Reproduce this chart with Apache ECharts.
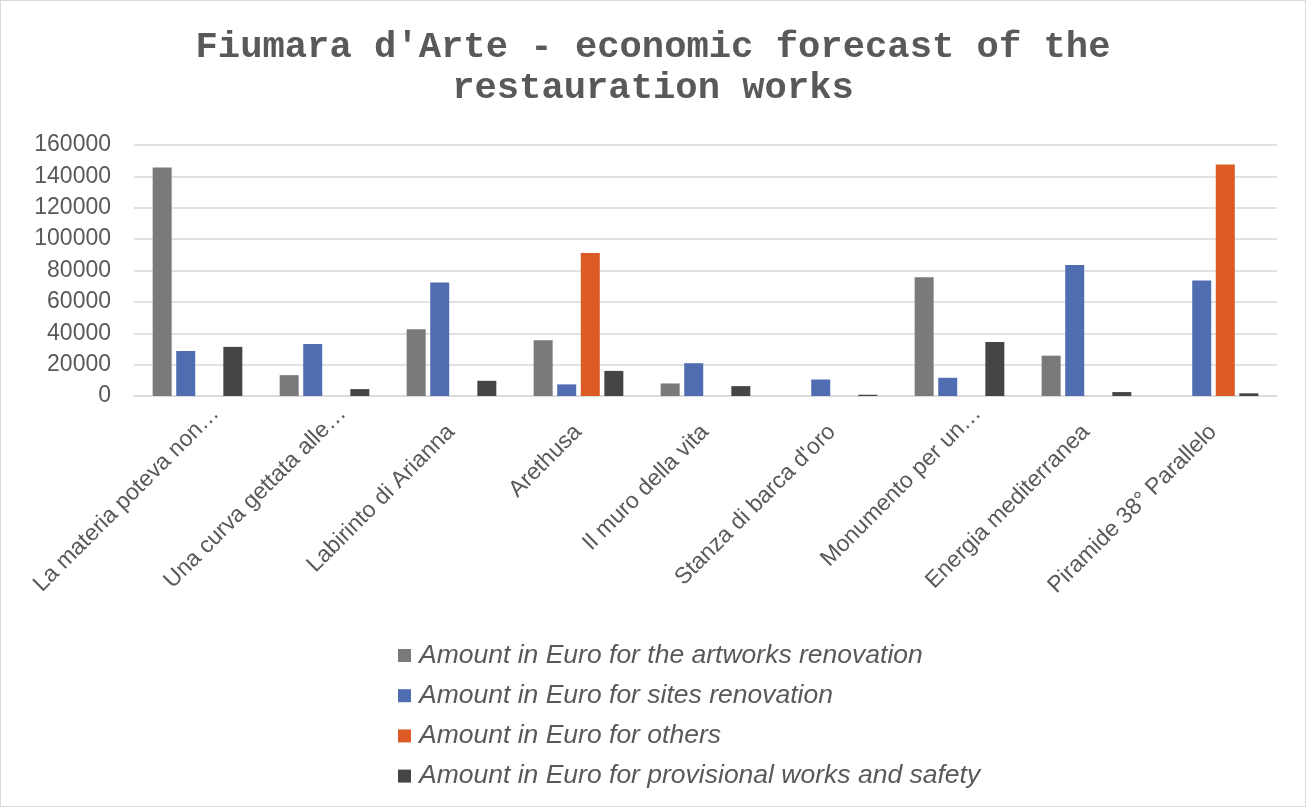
<!DOCTYPE html>
<html><head><meta charset="utf-8">
<script src="https://cdn.jsdelivr.net/npm/echarts@6/dist/echarts.min.js"></script>
<style>html,body{margin:0;padding:0;background:#fff}#c{position:absolute;left:0;top:0;width:1304px;height:805px;border:1px solid #d9d9d9}</style>
</head><body><div id="c"></div>
<script>
const categories = ["La materia poteva non…","Una curva gettata alle…","Labirinto di Arianna","Arethusa","Il muro della vita","Stanza di barca d'oro","Monumento per un…","Energia mediterranea","Piramide 38° Parallelo"];
const seriesNames = ["Amount in Euro for the artworks renovation","Amount in Euro for sites renovation","Amount in Euro for others","Amount in Euro for provisional works and safety"];
const artworks = [145600, 13300, 42500, 35500, 8000, 0, 75700, 25700, 0];
const sites = [28700, 33200, 72300, 7400, 20900, 10500, 11600, 83500, 73600];
const others = [0, 0, 0, 91100, 0, 0, 0, 0, 147500];
const safety = [31300, 4400, 9700, 16000, 6300, 800, 34400, 2500, 1700];
const colors = ["#7a7a7a", "#4f6db0", "#dc5a23", "#454545"];
const values = [artworks, sites, others, safety];

const labelFont = {fontFamily: 'Liberation Sans', fontSize: 23, color: '#595959', lineHeight: 23};
const chart = echarts.init(document.getElementById('c'));
chart.setOption({
  animation: false,
  title: {
    text: "Fiumara d'Arte - economic forecast of the\nrestauration works",
    left: 'center', top: 21,
    textStyle: {fontFamily: 'Liberation Mono', fontWeight: 'bold', fontSize: 37.2, color: '#595959', lineHeight: 41}
  },
  grid: {left: 133, right: 28, top: 144, bottom: 410, containLabel: false},
  legend: {
    orient: 'vertical', left: 392, top: 636, itemGap: 13.2, itemWidth: 13, itemHeight: 13,
    icon: 'rect',
    textStyle: {fontFamily: 'Liberation Sans', fontStyle: 'italic', fontSize: 26.5, lineHeight: 26.5, color: '#595959', padding: [0, 0, 0, 3]},
    data: seriesNames
  },
  xAxis: {
    type: 'category', data: categories,
    axisLine: {lineStyle: {color: '#d9d9d9', width: 1.5}},
    axisTick: {show: false},
    axisLabel: {
      rotate: 45, interval: 0, margin: -4, verticalAlign: 'top', padding: [14, 0, 0, 0],
      fontFamily: 'Liberation Sans', fontSize: 23, color: '#595959', lineHeight: 23,
      formatter: v => (v.endsWith('…') ? '{e|' + v + '}' : '{n|' + v + '}'),
      rich: {
        e: Object.assign({}, labelFont),
        n: Object.assign({padding: [0, 26, 0, 0]}, labelFont)
      }
    }
  },
  yAxis: {
    type: 'value', min: 0, max: 160000, interval: 20000,
    axisLine: {show: false}, axisTick: {show: false},
    splitLine: {lineStyle: {color: '#d9d9d9', width: 1.5}},
    axisLabel: {fontFamily: 'Liberation Sans', fontSize: 23, color: '#595959', margin: 23, formatter: v => String(v)}
  },
  series: seriesNames.map((n, i) => ({
    name: n, type: 'bar', data: values[i], barWidth: 19, barGap: '24%',
    itemStyle: {color: colors[i]}
  }))
});
</script></body></html>
